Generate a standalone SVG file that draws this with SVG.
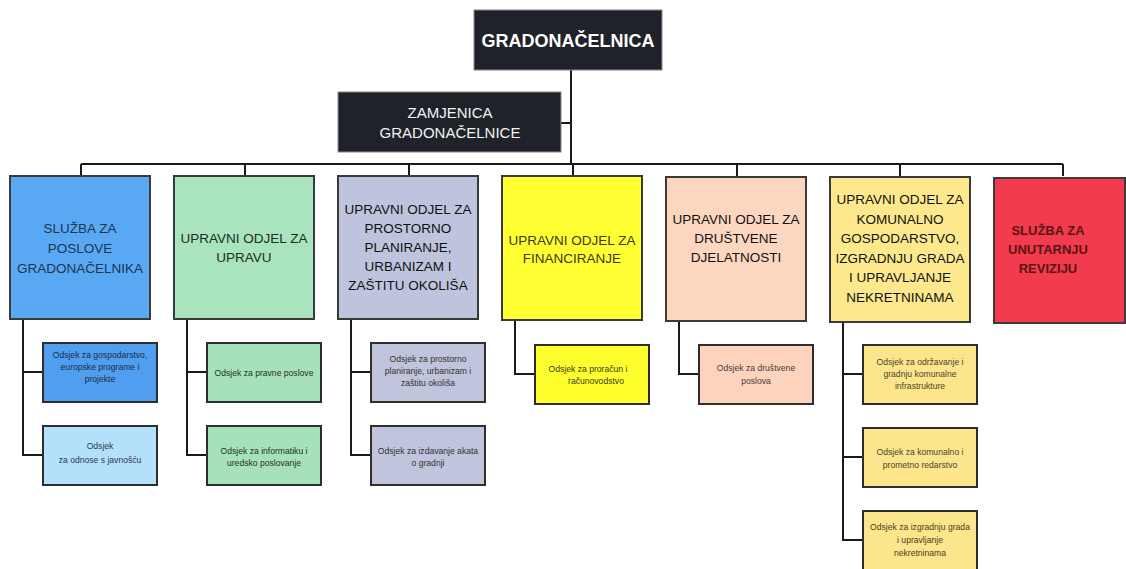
<svg xmlns="http://www.w3.org/2000/svg" width="1126" height="569" viewBox="0 0 1126 569">
<style>
.bg{fill:#ffffff}
.top{stroke:#3a3a3a;stroke-width:2}
.sub{stroke:#2e2e2e;stroke-width:2}
.dark{fill:#1f2329;stroke:#8a8a8a;stroke-width:1}
.c{fill:none;stroke:#1a1a1a;stroke-width:2}
text{font-family:"Liberation Sans",Arial,sans-serif;text-anchor:middle}
.t{font-size:13.5px;fill:#111}
.s{font-size:8.6px;fill:#333}
</style>
<rect class="bg" x="0" y="0" width="1126" height="569"/>
<g id="connectors">
<path class="c" d="M571 70V164M561 123H571M81 164H1063M81 164V176M245 164V176M409 164V176M573 164V176M737 164V176M900 164V176M1063 164V176"/>
<path class="c" d="M23 319V455H43M23 372H43"/>
<path class="c" d="M187 319V455H207M187 372H207"/>
<path class="c" d="M351 319V455H371M351 372H371"/>
<path class="c" d="M515 320V374H535"/>
<path class="c" d="M679 320V374H699"/>
<path class="c" d="M843 320V540H863M843 374H863M843 457H863"/>
</g>
<g id="gradonacelnica">
<rect class="dark" x="474" y="10" width="188" height="60"/>
<text x="568" y="47" style="font-size:18px;font-weight:bold;fill:#fff">GRADONAČELNICA</text>
</g>
<g id="zamjenica">
<rect class="dark" x="338" y="92" width="223" height="60"/>
<text x="450" y="118" style="font-size:15px;fill:#f2f2f2">ZAMJENICA</text>
<text x="450" y="138" style="font-size:15px;fill:#f2f2f2">GRADONAČELNICE</text>
</g>
<g id="sluzba-gradonacelnika">
<rect class="top" x="10" y="176" width="140" height="143" fill="#58a8f4"/>
<text class="t" x="80" style="fill:#1e3550"><tspan x="80" y="233">SLUŽBA ZA</tspan><tspan x="80" y="253">POSLOVE</tspan><tspan x="80" y="273">GRADONAČELNIKA</tspan></text>
</g>
<g id="odjel-upravu">
<rect class="top" x="174" y="176" width="140" height="143" fill="#a9e4bf"/>
<text class="t" x="244" style="fill:#1b2e20"><tspan x="244" y="243">UPRAVNI ODJEL ZA</tspan><tspan x="244" y="262">UPRAVU</tspan></text>
</g>
<g id="odjel-prostorno">
<rect class="top" x="338" y="176" width="140" height="143" fill="#bec4dd"/>
<text class="t" x="408"><tspan x="408" y="214">UPRAVNI ODJEL ZA</tspan><tspan x="408" y="233">PROSTORNO</tspan><tspan x="408" y="252">PLANIRANJE,</tspan><tspan x="408" y="271">URBANIZAM  I</tspan><tspan x="408" y="290">ZAŠTITU OKOLIŠA</tspan></text>
</g>
<g id="odjel-financiranje">
<rect class="top" x="502" y="176" width="140" height="144" fill="#ffff33"/>
<text class="t" x="572" style="fill:#3a3a10"><tspan x="572" y="245">UPRAVNI ODJEL ZA</tspan><tspan x="572" y="263">FINANCIRANJE</tspan></text>
</g>
<g id="odjel-drustvene">
<rect class="top" x="666" y="177" width="140" height="144" fill="#fdd6c0"/>
<text class="t" x="736"><tspan x="736" y="224">UPRAVNI ODJEL ZA</tspan><tspan x="736" y="243">DRUŠTVENE</tspan><tspan x="736" y="262">DJELATNOSTI</tspan></text>
</g>
<g id="odjel-komunalno">
<rect class="top" x="830" y="177" width="140" height="145" fill="#fde98c"/>
<text class="t" x="900"><tspan x="900" y="204">UPRAVNI ODJEL ZA</tspan><tspan x="900" y="224">KOMUNALNO</tspan><tspan x="900" y="243">GOSPODARSTVO,</tspan><tspan x="900" y="263">IZGRADNJU GRADA</tspan><tspan x="900" y="282">I UPRAVLJANJE</tspan><tspan x="900" y="302">NEKRETNINAMA</tspan></text>
</g>
<g id="sluzba-revizija">
<rect class="top" x="994" y="178" width="131" height="145" fill="#f23b4c"/>
<text class="t" x="1048" style="font-size:13px;font-weight:bold;fill:#5a1414"><tspan x="1048" y="235">SLUŽBA ZA</tspan><tspan x="1048" y="254">UNUTARNJU</tspan><tspan x="1048" y="273">REVIZIJU</tspan></text>
</g>
<g id="odsjek-gospodarstvo">
<rect class="sub" x="43" y="343" width="114" height="59" fill="#4f9ef0"/>
<text class="s" x="100" style="fill:#1e2e48"><tspan x="100" y="358">Odsjek za gospodarstvo,</tspan><tspan x="100" y="370">europske programe i</tspan><tspan x="100" y="382">projekte</tspan></text>
</g>
<g id="odsjek-javnost">
<rect class="sub" x="43" y="426" width="114" height="59" fill="#b3e0fb"/>
<text class="s" x="100" style="fill:#2a3a50"><tspan x="100" y="449">Odsjek</tspan><tspan x="100" y="463">za odnose  s javnošću</tspan></text>
</g>
<g id="odsjek-pravne">
<rect class="sub" x="207" y="343" width="114" height="59" fill="#a7e1b9"/>
<text class="s" x="264" y="376" style="fill:#1f3322">Odsjek za pravne poslove</text>
</g>
<g id="odsjek-informatika">
<rect class="sub" x="207" y="426" width="114" height="59" fill="#a7e1b9"/>
<text class="s" x="264" style="fill:#1f3322"><tspan x="264" y="454">Odsjek za informatiku  i</tspan><tspan x="264" y="466">uredsko poslovanje</tspan></text>
</g>
<g id="odsjek-prostorno">
<rect class="sub" x="371" y="343" width="114" height="59" fill="#c0c4dc"/>
<text class="s" x="428"><tspan x="428" y="362">Odsjek za prostorno</tspan><tspan x="428" y="374">planiranje,  urbanizam  i</tspan><tspan x="428" y="386">zaštitu okoliša</tspan></text>
</g>
<g id="odsjek-akti">
<rect class="sub" x="371" y="426" width="114" height="59" fill="#c0c4dc"/>
<text class="s" x="428"><tspan x="428" y="454">Odsjek za izdavanje akata</tspan><tspan x="428" y="466">o gradnji</tspan></text>
</g>
<g id="odsjek-proracun">
<rect class="sub" x="535" y="345" width="114" height="59" fill="#ffff2e"/>
<text class="s" x="592" style="fill:#3a3a20"><tspan x="588" y="372">Odsjek za proračun  i</tspan><tspan x="596" y="384">računovodstvo</tspan></text>
</g>
<g id="odsjek-drustvene">
<rect class="sub" x="699" y="345" width="114" height="59" fill="#fdd3bd"/>
<text class="s" x="756" style="fill:#4a3a3a"><tspan x="756" y="371">Odsjek za društvene</tspan><tspan x="756" y="384">poslova</tspan></text>
</g>
<g id="odsjek-odrzavanje">
<rect class="sub" x="863" y="345" width="114" height="59" fill="#fde58b"/>
<text class="s" x="920" style="fill:#4a4630"><tspan x="920" y="365">Odsjek za održavanje  i</tspan><tspan x="920" y="377">gradnju  komunalne</tspan><tspan x="920" y="389">infrastrukture</tspan></text>
</g>
<g id="odsjek-redarstvo">
<rect class="sub" x="863" y="428" width="114" height="59" fill="#fde58b"/>
<text class="s" x="920" style="fill:#4a4630"><tspan x="920" y="455">Odsjek za komunalno  i</tspan><tspan x="920" y="468">prometno  redarstvo</tspan></text>
</g>
<g id="odsjek-izgradnja">
<rect class="sub" x="863" y="511" width="114" height="62" fill="#fde58b"/>
<text class="s" x="920" style="fill:#4a4020"><tspan x="920" y="530">Odsjek za izgradnju  grada</tspan><tspan x="920" y="543">i upravljanje</tspan><tspan x="920" y="556">nekretninama</tspan></text>
</g>
</svg>
